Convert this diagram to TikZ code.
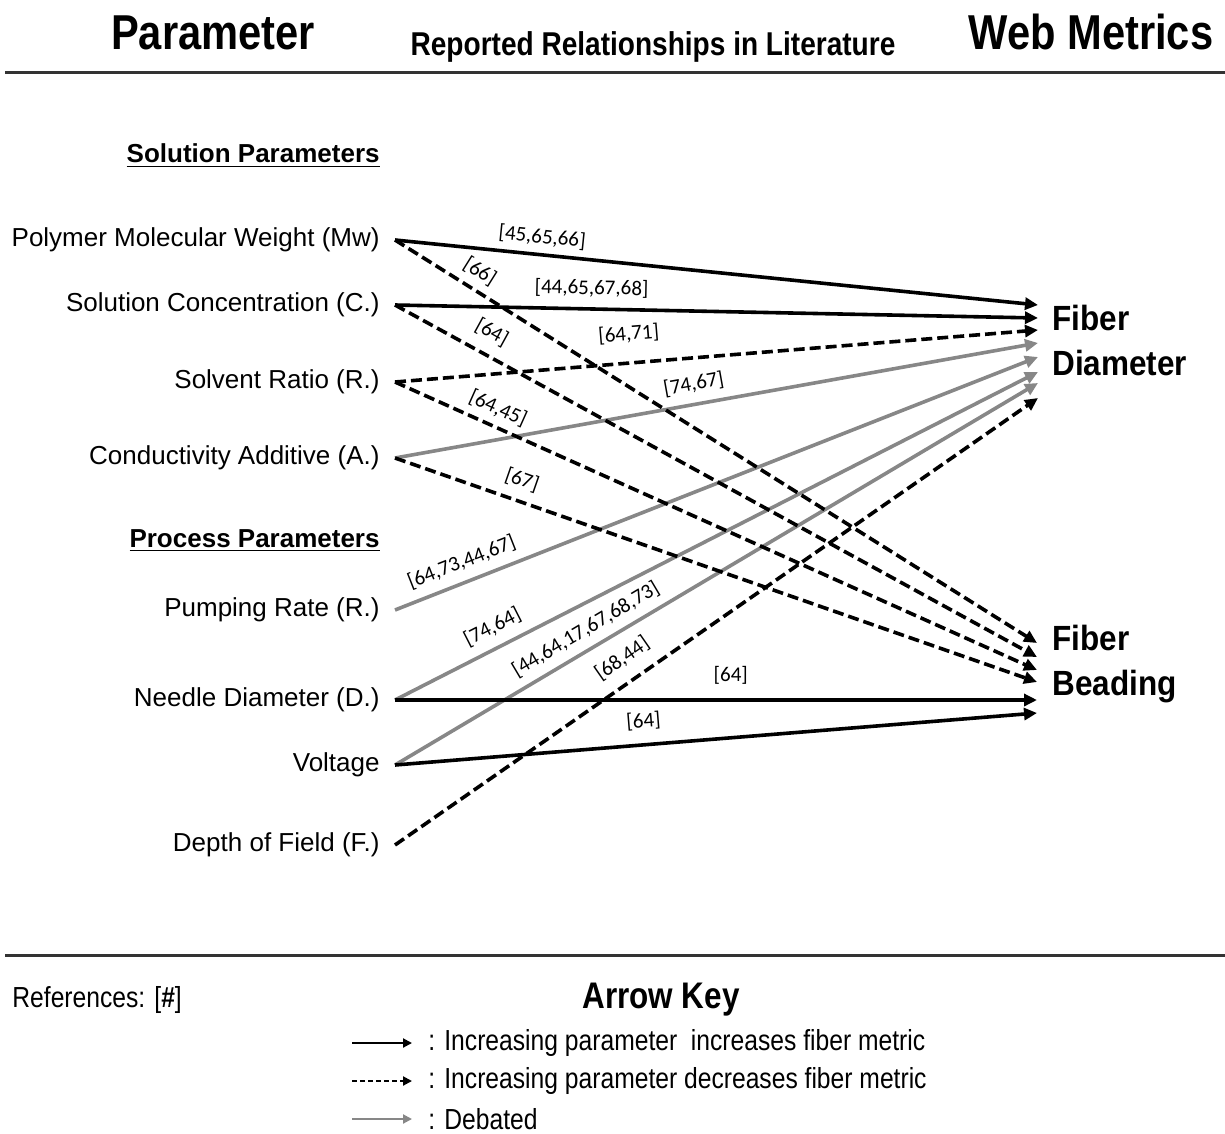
\documentclass[tikz,border=0pt]{standalone}
\usepackage{fontspec}
\setmainfont{Liberation Sans}
\newfontfamily\narrowfont[FakeStretch=0.85]{Liberation Sans}
\newfontfamily\metricfont[FakeStretch=0.9]{Liberation Sans}
\newfontfamily\citefont{Carlito}
\usetikzlibrary{arrows.meta}
\definecolor{debgray}{RGB}{135,135,135}

\begin{document}
\begin{tikzpicture}
        [%%%%%%%%%%%%%%%%%%%%%%%%%%%%%%
            x=0.5pt, y=-0.5pt,
            coltitle/.style={anchor=base, inner sep=0pt, font=\narrowfont\bfseries\fontsize{24.5}{28}\selectfont},
            param/.style={anchor=east, inner xsep=7.5pt, inner ysep=0pt, font=\fontsize{13}{15}\selectfont},
            paramgroup/.style={anchor=base east, inner sep=0pt, font=\bfseries\fontsize{13}{15}\selectfont},
            metric/.style={anchor=west, align=left, inner sep=0pt, font=\metricfont\bfseries\fontsize{17.5}{22.5}\selectfont},
            incr/.style={line width=1.8pt, -{Triangle[length=6.5pt,width=6pt]}},
            decr/.style={incr, dash pattern=on 5.5pt off 2.5pt},
            deb/.style={incr, draw=debgray, fill=debgray},
            refnum/.style={sloped, above=#1, inner sep=0pt, font=\citefont\fontsize{10.5}{12}\selectfont},
            hrule/.style={line width=1.5pt, draw=black!80},
            keytext/.style={anchor=west, inner xsep=8pt, inner ysep=0pt, font=\narrowfont\fontsize{14.5}{17}\selectfont},
            keyinc/.style={line width=1pt, -{Triangle[length=4.5pt,width=4.5pt]}},
            keydec/.style={keyinc, dash pattern=on 2.5pt off 1.5pt},
            keydeb/.style={keyinc, draw=debgray, fill=debgray},
        ]%%%%%%%%%%%%%%%%%%%%%%%%%%%%%%

        \useasboundingbox (0,0) rectangle (1225,1134);

        % headings
        \node[coltitle] (partitle) at (213,50) {Parameter};
        \node[coltitle, font=\narrowfont\bfseries\fontsize{16.5}{20}\selectfont] (littitle) at (653,56) {Reported Relationships in Literature};
        \node[coltitle] (webtitle) at (1091,50) {Web Metrics};
        \draw[hrule] (5,73) -- (1225,73);
        \draw[hrule] (5,955) -- (1225,955);

        % parameters
        \node[paramgroup] (solgroup) at (380,163) {\underline{Solution Parameters}};
        \node[paramgroup] (progroup) at (380,547) {\underline{Process Parameters}};
        \foreach \nm/\y/\txt in {mw/240/Polymer Molecular Weight (Mw), conc/305/Solution Concentration (C.), solv/382/Solvent Ratio (R.), add/458/Conductivity Additive (A.), pump/610/Pumping Rate (R.), needle/700/Needle Diameter (D.), volt/765/Voltage, depth/845/Depth of Field (F.)}{
            \node[param] (\nm) at (395,\y) {\txt};
        }

        % web metrics
        \node[metric] (diam) at (1052,340) {Fiber\\Diameter};
        \node[metric] (bead) at (1052,664) {Fiber\\Beading};
        \foreach \i/\y in {1/305,2/318,3/330,4/343,5/357,6/372,7/383,8/398}{
            \coordinate (diam\i) at (1038,\y);
        }
        \foreach \i/\y in {1/643,2/657,3/670,4/682,5/700,6/713}{
            \coordinate (bead\i) at (1037,\y);
        }

        % relationships to fiber diameter
        \draw[deb] (add.east) -- node[refnum=4.6pt, pos=.47] {[74,67]} (diam4);
        \draw[deb] (pump.east) -- node[refnum=4.6pt, pos=.115] {[64,73,44,67]} (diam5);
        \draw[deb] (needle.east) -- node[refnum=4.8pt, pos=.166] {[74,64]} (diam6);
        \draw[deb] (volt.east) -- node[refnum=4.3pt, pos=.312] {[44,64,17,67,68,73]} (diam7);
        \draw[incr] (mw.east) -- node[refnum=3.4pt, pos=.226] {[45,65,66]} (diam1);
        \draw[incr] (conc.east) -- node[refnum=5pt, pos=.305] {[44,65,67,68]} (diam2);
        \draw[decr] (solv.east) -- node[refnum=9.1pt, pos=.367] {[64,71]} (diam3);
        \draw[decr] (depth.east) -- node[refnum=6.3pt, pos=.374] {[68,44]} (diam8);

        % relationships to fiber beading
        \draw[decr] (mw.east) -- node[refnum=3.7pt, pos=.117] {[66]} (bead1);
        \draw[decr] (conc.east) -- node[refnum=5.8pt, pos=.134] {[64]} (bead2);
        \draw[decr] (solv.east) -- node[refnum=3.6pt, pos=.149] {[64,45]} (bead3);
        \draw[decr] (add.east) -- node[refnum=5.1pt, pos=.187] {[67]} (bead4);
        \draw[incr] (needle.east) -- node[refnum=6.8pt, pos=.523] {[64]} (bead5);
        \draw[incr] (volt.east) -- node[refnum=6.3pt, pos=.39] {[64]} (bead6);

        % key
        \node[anchor=base west, inner sep=0pt, font=\narrowfont\fontsize{14.5}{17}\selectfont] (refs) at (12,1007) {References: [\textbf{\#}]};
        \node[coltitle, font=\narrowfont\bfseries\fontsize{18.5}{22}\selectfont] (keytitle) at (661,1008) {Arrow Key};
        \foreach \i/\y/\st/\txt in {1/1043/keyinc/{: Increasing parameter\ \ increases fiber metric}, 2/1081/keydec/{: Increasing parameter decreases fiber metric}, 3/1119/keydeb/{: Debated}}{
            \coordinate (k\i) at (352,\y);
            \node[keytext] (t\i) at (412,\y) {\txt};
            \draw[\st] (k\i) -- (t\i.west);
        }
\end{tikzpicture}
\end{document}
